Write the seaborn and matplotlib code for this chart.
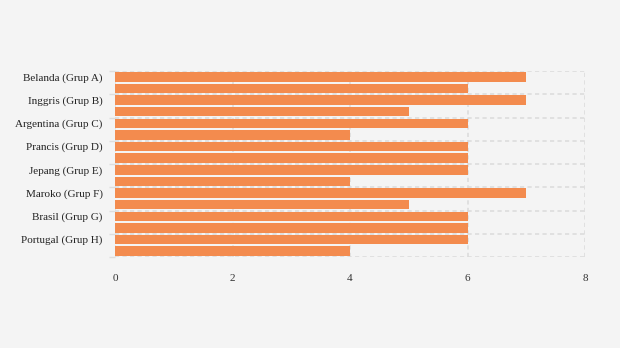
import matplotlib
matplotlib.use("Agg")
import matplotlib.pyplot as plt
import seaborn as sns
import pandas as pd
import numpy as np

teams = ["Belanda (Grup A)", "Senegal (Grup A)", "Inggris (Grup B)", "Amerika Serikat (Grup B)",
         "Argentina (Grup C)", "Polandia (Grup C)", "Prancis (Grup D)", "Australia (Grup D)",
         "Jepang (Grup E)", "Spanyol (Grup E)", "Maroko (Grup F)", "Kroasia (Grup F)",
         "Brasil (Grup G)", "Swiss (Grup G)", "Portugal (Grup H)", "Korea Selatan (Grup H)"]
points = [7, 6, 7, 5, 6, 4, 6, 6, 6, 4, 7, 5, 6, 6, 6, 4]
x_ticks = [0, 2, 4, 6, 8]

df = pd.DataFrame({"team": teams, "points": points})

sns.set_theme(style="white")
plt.rcParams["font.family"] = ["Liberation Serif", "DejaVu Serif"]

fig = plt.figure(figsize=(6.2, 3.48), dpi=100, facecolor="#f4f4f4")
ax = fig.add_axes([115/620, 1-257/348, 470/620, 186/348])
ax.set_facecolor("#f4f4f4")

sns.barplot(data=df, y="team", x="points", orient="h", color="#f38b4e",
            saturation=1, width=0.82, linewidth=0, ax=ax, zorder=3)

ax.set_xlim(0, 8)
ax.set_ylim(len(teams) - 0.5, -0.5)
ax.set_xticks(x_ticks)
ax.set_xticklabels([str(v) for v in x_ticks])
ax.tick_params(axis="x", length=0, pad=12, labelsize=8, labelcolor="#333333")

major = list(range(0, len(teams), 2))
ax.set_yticks(major)
ax.set_yticklabels([teams[i] for i in major])
ax.tick_params(axis="y", which="major", length=0, pad=9, labelsize=8, labelcolor="#222222")
boundaries = [i - 0.5 for i in range(0, len(teams), 2)] + [len(teams) - 0.5]
ax.set_yticks(boundaries, minor=True)
ax.tick_params(axis="y", which="minor", length=4, width=1, color="#dddddd", left=True)

for b in boundaries:
    ax.axhline(b, color="#dcdcdc", lw=1.2, ls=(0, (2.5, 2.0)), zorder=1)
for v in x_ticks:
    ax.axvline(v, color="#dcdcdc", lw=1.2, ls=(0, (2.5, 2.0)), zorder=1)

for s in ax.spines.values():
    s.set_visible(False)
ax.set_xlabel("")
ax.set_ylabel("")

fig.savefig("out.png", dpi=100, facecolor=fig.get_facecolor())
